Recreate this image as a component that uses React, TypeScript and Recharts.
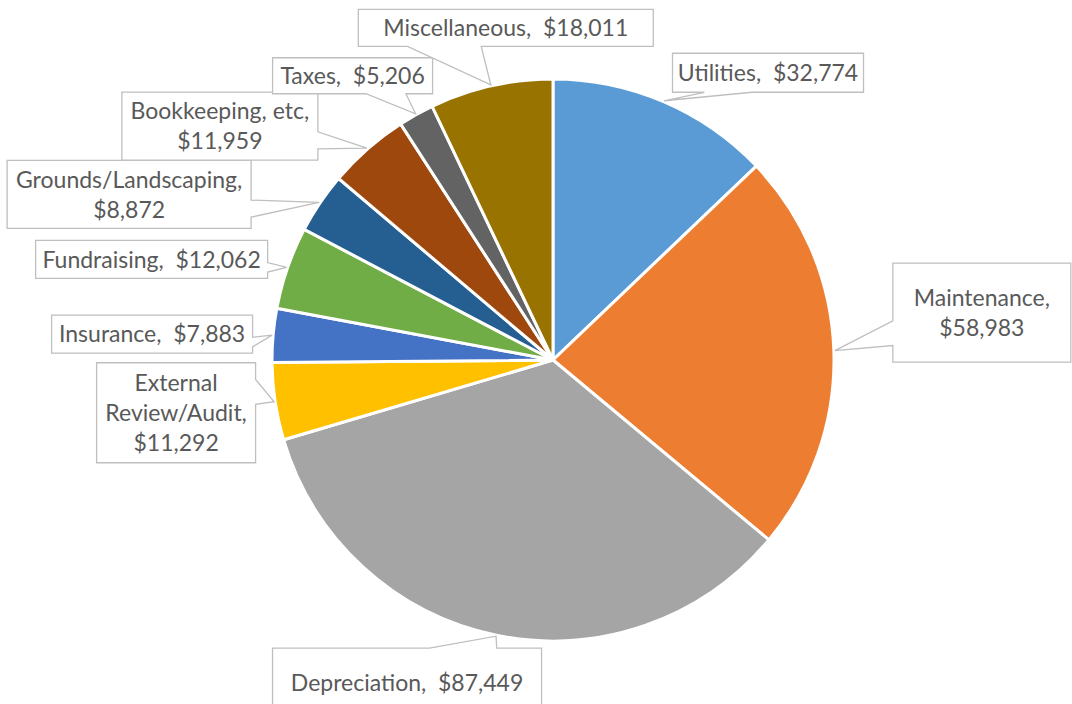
import { Cell, Pie, PieChart } from "recharts";

const categories = [
	"Utilities",
	"Maintenance",
	"Depreciation",
	"External Review/Audit",
	"Insurance",
	"Fundraising",
	"Grounds/Landscaping",
	"Bookkeeping, etc",
	"Taxes",
	"Miscellaneous",
];
const expenses = [32774, 58983, 87449, 11292, 7883, 12062, 8872, 11959, 5206, 18011];
const colors = [
	"#5B9BD5",
	"#ED7D31",
	"#A5A5A5",
	"#FFC000",
	"#4472C4",
	"#70AD47",
	"#255E91",
	"#9E480E",
	"#636363",
	"#997300",
];
// how many lines each callout wraps to
const labelWrap = [1, 2, 1, 3, 1, 1, 2, 2, 1, 1];

// callout box: centre offset from the slice tip, and box size
const calloutLayout = [
	{ dx: 104, dy: -28, w: 191, h: 39 },
	{ dx: 147, dy: -38, w: 178, h: 99 },
	{ dx: -89, dy: 47, w: 269, h: 70 },
	{ dx: -98, dy: 11, w: 159, h: 100 },
	{ dx: -120, dy: -1, w: 201, h: 38 },
	{ dx: -135, dy: -8, w: 232, h: 38 },
	{ dx: -190, dy: -8, w: 244, h: 68 },
	{ dx: -147, dy: -22, w: 196, h: 68 },
	{ dx: -63, dy: -38, w: 160, h: 36 },
	{ dx: 15, dy: -57, w: 295, h: 37 },
];

const data = categories.map((name, i) => ({ name, value: expenses[i] }));

const FONT = 23;
const LINE_H = 30;
const RAD = Math.PI / 180;

const money = (v: number) => "$" + v.toLocaleString("en-US");

function labelText(name: string, value: number, lines: number) {
	if (lines === 1) return [`${name},  ${money(value)}`];
	if (lines === 2) return [`${name},`, money(value)];
	const cut = name.indexOf(" ");
	return [name.slice(0, cut), name.slice(cut + 1) + ",", money(value)];
}

// office "wedgeRectCallout" outline
function calloutPath(l: number, t: number, w: number, h: number, tx: number, ty: number) {
	const r = l + w;
	const b = t + h;
	const dxPos = tx - (l + w / 2);
	const dyPos = ty - (t + h / 2);
	const dz = Math.abs(dyPos) - Math.abs((dxPos * h) / w);
	const x1 = l + (w * (dxPos > 0 ? 7 : 2)) / 12;
	const x2 = l + (w * (dxPos > 0 ? 10 : 5)) / 12;
	const y1 = t + (h * (dyPos > 0 ? 7 : 2)) / 12;
	const y2 = t + (h * (dyPos > 0 ? 10 : 5)) / 12;
	const xl = dz > 0 ? l : dxPos > 0 ? l : tx;
	const yl = dz > 0 ? y1 : dxPos > 0 ? y1 : ty;
	const xt = dz > 0 ? (dyPos > 0 ? x1 : tx) : x1;
	const yt = dz > 0 ? (dyPos > 0 ? t : ty) : t;
	const xr = dz > 0 ? r : dxPos > 0 ? tx : r;
	const yr = dz > 0 ? y1 : dxPos > 0 ? ty : y1;
	const xb = dz > 0 ? (dyPos > 0 ? tx : x1) : x1;
	const yb = dz > 0 ? (dyPos > 0 ? ty : b) : b;
	return [
		`M${l},${t}`,
		`L${x1},${t}`,
		`L${xt},${yt}`,
		`L${x2},${t}`,
		`L${r},${t}`,
		`L${r},${y1}`,
		`L${xr},${yr}`,
		`L${r},${y2}`,
		`L${r},${b}`,
		`L${x2},${b}`,
		`L${xb},${yb}`,
		`L${x1},${b}`,
		`L${l},${b}`,
		`L${l},${y2}`,
		`L${xl},${yl}`,
		`L${l},${y1}`,
		"Z",
	].join(" ");
}

function renderCallout(props: any) {
	const { cx, cy, midAngle, outerRadius, index, name, value } = props;
	const tipR = outerRadius + 1;
	const tx = cx + tipR * Math.cos(-midAngle * RAD);
	const ty = cy + tipR * Math.sin(-midAngle * RAD);
	const box = calloutLayout[index];
	const bcx = tx + box.dx;
	const bcy = ty + box.dy;
	const l = bcx - box.w / 2;
	const t = bcy - box.h / 2;
	const lines = labelText(name, value, labelWrap[index]);
	const first = bcy - ((lines.length - 1) * LINE_H) / 2;
	return (
		<g key={`callout-${index}`}>
			<path
				d={calloutPath(l, t, box.w, box.h, tx, ty)}
				fill="#FFFFFF"
				stroke="#BFBFBF"
				strokeWidth={1.3}
			/>
			<text
				textAnchor="middle"
				fill="#595959"
				fontSize={FONT}
				fontFamily="Lato, 'Open Sans', sans-serif"
				style={{ whiteSpace: "pre" }}
			>
				{lines.map((s, i) => (
					<tspan key={i} x={bcx} y={first + i * LINE_H + FONT * 0.36}>
						{s}
					</tspan>
				))}
			</text>
		</g>
	);
}

export default function App() {
	return (
		<div style={{ width: 1072, height: 704, background: "#FFFFFF" }}>
			<style>{"body{margin:0}"}</style>
			<PieChart width={1072} height={704} margin={{ top: 0, right: 0, bottom: 0, left: 0 }}>
				<Pie
					data={data}
					dataKey="value"
					nameKey="name"
					cx={553}
					cy={360}
					outerRadius={281}
					startAngle={90}
					endAngle={-270}
					stroke="#FFFFFF"
					strokeWidth={3}
					label={renderCallout}
					labelLine={false}
					isAnimationActive={false}
				>
					{data.map((d, i) => (
						<Cell key={d.name} fill={colors[i]} />
					))}
				</Pie>
			</PieChart>
		</div>
	);
}
